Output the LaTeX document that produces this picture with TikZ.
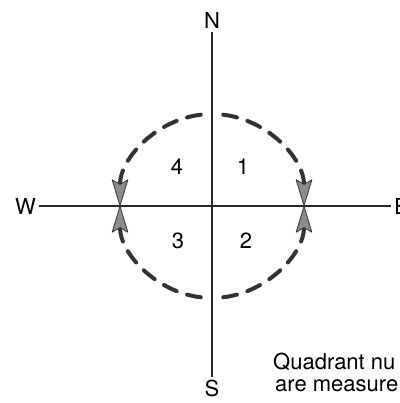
\documentclass[tikz,border=0pt]{standalone}
\usepackage{fontspec}
\setmainfont{TeX Gyre Heros}
\usetikzlibrary{arrows.meta}
\begin{document}
\begin{tikzpicture}[x=1pt,y=1pt,
 compass/.style={inner sep=3pt,font=\fontsize{22}{26}\selectfont},
 quadnum/.style={inner sep=0pt,font=\fontsize{22}{26}\selectfont},
 axisline/.style={line width=2pt,black!85},
 ring/.style={line width=4pt,black!80,line cap=round,dash pattern=on 14pt off 11pt,
   -{Stealth[length=28pt,width=17pt,inset=5pt,fill=black!45,line width=0.8pt,round]}},
 note/.style={anchor=base west,inner sep=0pt,font=\fontsize{22}{26}\selectfont}]
\useasboundingbox (0,0) rectangle (399,403);
\coordinate (O) at (212,197);
\node[compass,anchor=south] (north) at (212,371) {N};
\node[compass,anchor=north] (south) at (212,26) {S};
\node[compass,anchor=east] (west) at (39,197) {W};
\node[compass,anchor=west] (east) at (391,197) {E};
\draw[axisline] (north.south) -- (south.north);
\draw[axisline] (west.east) -- (east.west);
\draw[ring] ([shift={(83:92)}]O) arc[start angle=83,end angle=0,radius=92];
\draw[ring] ([shift={(97:92)}]O) arc[start angle=97,end angle=180,radius=92];
\draw[ring] ([shift={(263:92)}]O) arc[start angle=263,end angle=180,radius=92];
\draw[ring] ([shift={(277:92)}]O) arc[start angle=277,end angle=360,radius=92];
\node[quadnum] (q4) at (177,236) {4};
\node[quadnum] (q1) at (243,236) {1};
\node[quadnum] (q3) at (178,162) {3};
\node[quadnum] (q2) at (246,162) {2};
\node[note] (line1) at (273,33) {Quadrant nu};
\node[note] (line2) at (275,11) {are measure};
\end{tikzpicture}
\end{document}
